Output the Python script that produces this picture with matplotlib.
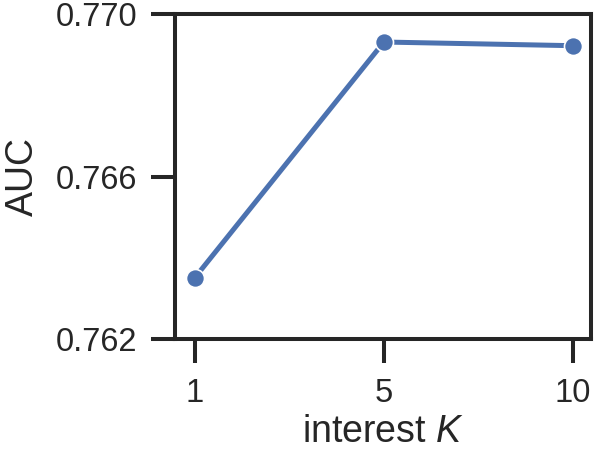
import matplotlib
matplotlib.use("Agg")
import matplotlib.pyplot as plt

k_labels = ["1", "5", "10"]
auc = [0.76351, 0.76931, 0.76922]
yticks = [0.762, 0.766, 0.770]

plt.rcParams['font.family'] = ['Liberation Sans', 'DejaVu Sans']
plt.rcParams['mathtext.fontset'] = 'custom'
plt.rcParams['mathtext.it'] = 'Liberation Sans:italic'
plt.rcParams['mathtext.rm'] = 'Liberation Sans'

fig = plt.figure(figsize=(5.98, 4.59), dpi=100)
ax = fig.add_axes([0.2926, 0.2614, 0.988 - 0.2926, 0.9695 - 0.2614])

x = list(range(len(k_labels)))
ax.plot(x, auc, color='#4C72B0', lw=3.6, marker='o', markersize=13,
        markeredgecolor='white', markeredgewidth=1.2, solid_capstyle='butt')

ax.set_xlim(-0.105, 2.095)
ax.set_ylim(0.762, 0.770)
ax.set_xticks(x)
ax.set_xticklabels(k_labels)
ax.set_yticks(yticks)
ax.set_yticklabels([f"{v:.3f}" for v in yticks])

for s in ax.spines.values():
    s.set_linewidth(2.9)
    s.set_color('#262626')
ax.tick_params(axis='both', length=17, width=2.9, color='#262626',
               labelsize=23.5, labelcolor='#262626')
ax.tick_params(axis='x', pad=11)
ax.tick_params(axis='y', pad=10)

ax.set_xlabel("interest $K$", fontsize=27, color='#262626', labelpad=4)
ax.set_ylabel("AUC", fontsize=27, color='#262626', labelpad=11)

fig.savefig("out.png", dpi=100)
